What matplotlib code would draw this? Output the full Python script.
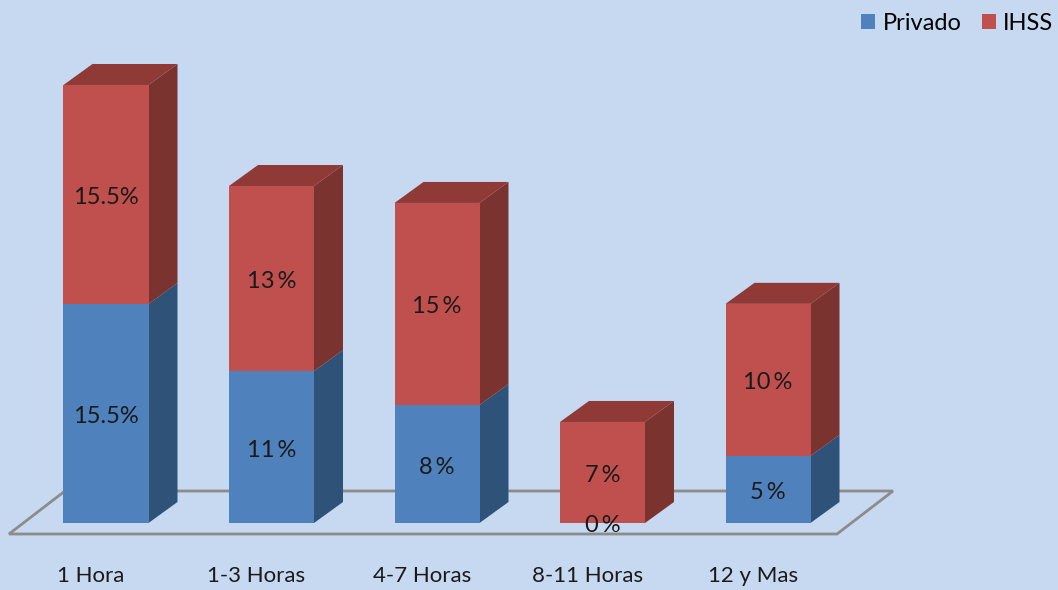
import matplotlib
matplotlib.use("Agg")
import matplotlib.pyplot as plt
from matplotlib.patches import Polygon, Patch

categories = ["1 Hora", "1-3 Horas", "4-7 Horas", "8-11 Horas", "12 y Mas"]
privado = [15.5, 10.75, 8.35, 0, 4.75]
ihss = [15.5, 13.1, 14.3, 7.15, 10.76]
privado_labels = ["15.5%", "11\u2009%", "8\u2009%", "0\u2009%", "5\u2009%"]
ihss_labels = ["15.5%", "13\u2009%", "15\u2009%", "7\u2009%", "10\u2009%"]

BG = "#C6D9F1"
BLUE, BLUE_SIDE = "#4F81BD", "#2F5279"
RED, RED_SIDE, RED_TOP = "#C0504D", "#7B3330", "#8F3A37"
FONT = ["Lato", "DejaVu Sans"]

W, H = 1058, 590
PX_Y = 14.13          # pixels per value unit
PX_X = 165.5          # pixels per category
BASE = 523            # baseline row
X0 = 106              # first category centre
BAR_W = 85 / PX_X
DX, DY = 29 / PX_X, 21 / PX_Y
LABEL_SHIFT = 15 / PX_X
TEXT_DROP = 3 / PX_Y

fig = plt.figure(figsize=(W / 100, H / 100), dpi=100, facecolor=BG)
ax = fig.add_axes([0, (H - BASE) / H, 1, BASE / H], facecolor=BG)
ax.set_xlim(-X0 / PX_X, (W - X0) / PX_X)
ax.set_ylim(0, BASE / PX_Y)
for s in ax.spines.values():
    s.set_visible(False)
ax.set_yticks([])
ax.set_xticks([i - LABEL_SHIFT for i in range(len(categories))])
ax.set_xticklabels(categories, fontsize=16, family=FONT, color="#1a1a1a")
ax.tick_params(axis="x", length=0, pad=31)

# floor
fl_x0 = (9 - X0) / PX_X
fl_x1 = (837 - X0) / PX_X
fl_dx = 56 / PX_X
fl_lo = -11 / PX_Y
fl_hi = 32 / PX_Y
ax.add_patch(Polygon([(fl_x0, fl_lo), (fl_x1, fl_lo), (fl_x1 + fl_dx, fl_hi), (fl_x0 + fl_dx, fl_hi)],
                     closed=True, facecolor="none", edgecolor="#8C8C8C", lw=2, clip_on=False, zorder=1))


def box(x, bottom, h, face, side, top=None):
    l, r = x - BAR_W / 2, x + BAR_W / 2
    ax.bar(x, h, BAR_W, bottom=bottom, color=face, linewidth=0, zorder=3)
    ax.add_patch(Polygon([(r, bottom), (r + DX, bottom + DY), (r + DX, bottom + h + DY), (r, bottom + h)],
                         closed=True, facecolor=side, edgecolor="none", clip_on=False, zorder=2))
    if top:
        ax.add_patch(Polygon([(l, bottom + h), (r, bottom + h), (r + DX, bottom + h + DY), (l + DX, bottom + h + DY)],
                             closed=True, facecolor=top, edgecolor="none", clip_on=False, zorder=2))


for i, (p, q) in enumerate(zip(privado, ihss)):
    if p > 0:
        box(i, 0, p, BLUE, BLUE_SIDE)
    box(i, p, q, RED, RED_SIDE, RED_TOP)
    ax.text(i, p / 2 - TEXT_DROP, privado_labels[i], ha="center", va="center", fontsize=17,
            family=FONT, color="#1a1a1a", zorder=5, clip_on=False)
    ax.text(i, p + q / 2 - TEXT_DROP, ihss_labels[i], ha="center", va="center", fontsize=17,
            family=FONT, color="#1a1a1a", zorder=5)

handles = [Patch(facecolor=BLUE, edgecolor="none", label="Privado"),
           Patch(facecolor=RED, edgecolor="none", label="IHSS")]
ax.legend(handles=handles, ncol=2, loc="upper right", bbox_to_anchor=(1053 / W, 1 - 13 / BASE), frameon=False,
          prop={"family": FONT, "size": 17}, handlelength=0.6, handleheight=0.6, handletextpad=0.3,
          columnspacing=0.85, borderaxespad=0, borderpad=0)

fig.savefig("out.png", dpi=100, facecolor=BG)
